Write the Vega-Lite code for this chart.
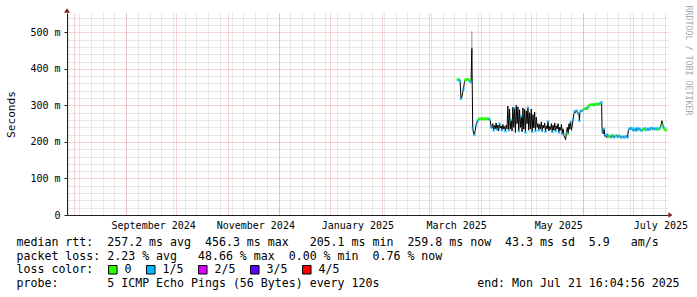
{
  "$schema": "https://vega.github.io/schema/vega-lite/v6.json",
  "width": 601,
  "height": 202,
  "autosize": {"type": "none"},
  "padding": {"left": 67, "top": 13, "right": 29, "bottom": 82},
  "background": "white",
  "config": {
    "view": {"stroke": null},
    "axis": {"labelFont": "DejaVu Sans Mono", "titleFont": "DejaVu Sans Mono", "labelColor": "#000", "titleColor": "#000", "titleFontWeight": "normal"},
    "legend": {"labelFont": "DejaVu Sans Mono"}
  },
  "datasets": {
    "smoke": [{"t": "2025-03-26T12:00Z", "lo": 456, "hi": 503}],
    "rtt": [
      {"t": "2025-03-18T00:00Z", "v": 370, "loss": "0"},
      {"t": "2025-03-18T12:00Z", "v": 372, "loss": "0"},
      {"t": "2025-03-19T00:00Z", "v": 369, "loss": "1/5"},
      {"t": "2025-03-19T12:00Z", "v": 366, "loss": "1/5"},
      {"t": "2025-03-20T00:00Z", "v": 318, "loss": "1/5"},
      {"t": "2025-03-20T12:00Z", "v": 322},
      {"t": "2025-03-21T00:00Z", "v": 335},
      {"t": "2025-03-21T12:00Z", "v": 345, "loss": "1/5"},
      {"t": "2025-03-22T00:00Z", "v": 362},
      {"t": "2025-03-22T12:00Z", "v": 370, "loss": "0"},
      {"t": "2025-03-23T00:00Z", "v": 371, "loss": "0"},
      {"t": "2025-03-23T12:00Z", "v": 370, "loss": "0"},
      {"t": "2025-03-24T00:00Z", "v": 372, "loss": "0"},
      {"t": "2025-03-24T12:00Z", "v": 370, "loss": "0"},
      {"t": "2025-03-25T00:00Z", "v": 369, "loss": "0"},
      {"t": "2025-03-25T12:00Z", "v": 366, "loss": "1/5"},
      {"t": "2025-03-26T00:00Z", "v": 363, "loss": "1/5"},
      {"t": "2025-03-26T12:00Z", "v": 456},
      {"t": "2025-03-27T00:00Z", "v": 238, "loss": "1/5"},
      {"t": "2025-03-27T12:00Z", "v": 224},
      {"t": "2025-03-28T00:00Z", "v": 219, "loss": "1/5"},
      {"t": "2025-03-28T12:00Z", "v": 232},
      {"t": "2025-03-29T00:00Z", "v": 246, "loss": "1/5"},
      {"t": "2025-03-29T12:00Z", "v": 252},
      {"t": "2025-03-30T00:00Z", "v": 258, "loss": "1/5"},
      {"t": "2025-03-30T12:00Z", "v": 262, "loss": "0"},
      {"t": "2025-03-31T00:00Z", "v": 264, "loss": "0"},
      {"t": "2025-03-31T12:00Z", "v": 263, "loss": "0"},
      {"t": "2025-04-01T00:00Z", "v": 263, "loss": "0"},
      {"t": "2025-04-01T12:00Z", "v": 264, "loss": "0"},
      {"t": "2025-04-02T00:00Z", "v": 264, "loss": "0"},
      {"t": "2025-04-02T12:00Z", "v": 263, "loss": "0"},
      {"t": "2025-04-03T00:00Z", "v": 262, "loss": "0"},
      {"t": "2025-04-03T12:00Z", "v": 263, "loss": "0"},
      {"t": "2025-04-04T00:00Z", "v": 264, "loss": "0"},
      {"t": "2025-04-04T12:00Z", "v": 263, "loss": "0"},
      {"t": "2025-04-05T00:00Z", "v": 263, "loss": "0"},
      {"t": "2025-04-05T12:00Z", "v": 264, "loss": "0"},
      {"t": "2025-04-06T00:00Z", "v": 262, "loss": "1/5"},
      {"t": "2025-04-06T12:00Z", "v": 258},
      {"t": "2025-04-07T00:00Z", "v": 240, "loss": "1/5"},
      {"t": "2025-04-07T12:00Z", "v": 238},
      {"t": "2025-04-08T00:00Z", "v": 250},
      {"t": "2025-04-08T12:00Z", "v": 232, "loss": "1/5"},
      {"t": "2025-04-09T00:00Z", "v": 245},
      {"t": "2025-04-09T12:00Z", "v": 236},
      {"t": "2025-04-10T00:00Z", "v": 252},
      {"t": "2025-04-10T12:00Z", "v": 234, "loss": "1/5"},
      {"t": "2025-04-11T00:00Z", "v": 246},
      {"t": "2025-04-11T12:00Z", "v": 230},
      {"t": "2025-04-12T00:00Z", "v": 250, "loss": "1/5"},
      {"t": "2025-04-12T12:00Z", "v": 238},
      {"t": "2025-04-13T00:00Z", "v": 244},
      {"t": "2025-04-13T12:00Z", "v": 232, "loss": "1/5"},
      {"t": "2025-04-14T00:00Z", "v": 248},
      {"t": "2025-04-14T12:00Z", "v": 236},
      {"t": "2025-04-15T00:00Z", "v": 242},
      {"t": "2025-04-15T12:00Z", "v": 230, "loss": "1/5"},
      {"t": "2025-04-16T00:00Z", "v": 246},
      {"t": "2025-04-16T12:00Z", "v": 236},
      {"t": "2025-04-17T00:00Z", "v": 298},
      {"t": "2025-04-17T12:00Z", "v": 232, "loss": "1/5"},
      {"t": "2025-04-18T00:00Z", "v": 290},
      {"t": "2025-04-18T12:00Z", "v": 236},
      {"t": "2025-04-19T00:00Z", "v": 260, "loss": "1/5"},
      {"t": "2025-04-19T12:00Z", "v": 230},
      {"t": "2025-04-20T00:00Z", "v": 295},
      {"t": "2025-04-20T12:00Z", "v": 240},
      {"t": "2025-04-21T00:00Z", "v": 292, "loss": "1/5"},
      {"t": "2025-04-21T12:00Z", "v": 226},
      {"t": "2025-04-22T00:00Z", "v": 300},
      {"t": "2025-04-22T12:00Z", "v": 250},
      {"t": "2025-04-23T00:00Z", "v": 296},
      {"t": "2025-04-23T12:00Z", "v": 230, "loss": "1/5"},
      {"t": "2025-04-24T00:00Z", "v": 288},
      {"t": "2025-04-24T12:00Z", "v": 240},
      {"t": "2025-04-25T00:00Z", "v": 270, "loss": "1/5"},
      {"t": "2025-04-25T12:00Z", "v": 228},
      {"t": "2025-04-26T00:00Z", "v": 293},
      {"t": "2025-04-26T12:00Z", "v": 235},
      {"t": "2025-04-27T00:00Z", "v": 290},
      {"t": "2025-04-27T12:00Z", "v": 226, "loss": "1/5"},
      {"t": "2025-04-28T00:00Z", "v": 285},
      {"t": "2025-04-28T12:00Z", "v": 250},
      {"t": "2025-04-29T00:00Z", "v": 294, "loss": "1/5"},
      {"t": "2025-04-29T12:00Z", "v": 232},
      {"t": "2025-04-30T00:00Z", "v": 280},
      {"t": "2025-04-30T12:00Z", "v": 236},
      {"t": "2025-05-01T00:00Z", "v": 290},
      {"t": "2025-05-01T12:00Z", "v": 228, "loss": "1/5"},
      {"t": "2025-05-02T00:00Z", "v": 275},
      {"t": "2025-05-02T12:00Z", "v": 238},
      {"t": "2025-05-03T00:00Z", "v": 282},
      {"t": "2025-05-03T12:00Z", "v": 230, "loss": "1/5"},
      {"t": "2025-05-04T00:00Z", "v": 268},
      {"t": "2025-05-04T12:00Z", "v": 240},
      {"t": "2025-05-05T00:00Z", "v": 250},
      {"t": "2025-05-05T12:00Z", "v": 232, "loss": "1/5"},
      {"t": "2025-05-06T00:00Z", "v": 248},
      {"t": "2025-05-06T12:00Z", "v": 236},
      {"t": "2025-05-07T00:00Z", "v": 255},
      {"t": "2025-05-07T12:00Z", "v": 230, "loss": "1/5"},
      {"t": "2025-05-08T00:00Z", "v": 246},
      {"t": "2025-05-08T12:00Z", "v": 238},
      {"t": "2025-05-09T00:00Z", "v": 252},
      {"t": "2025-05-09T12:00Z", "v": 228, "loss": "1/5"},
      {"t": "2025-05-10T00:00Z", "v": 244},
      {"t": "2025-05-10T12:00Z", "v": 236},
      {"t": "2025-05-11T00:00Z", "v": 256, "loss": "1/5"},
      {"t": "2025-05-11T12:00Z", "v": 230},
      {"t": "2025-05-12T00:00Z", "v": 242},
      {"t": "2025-05-12T12:00Z", "v": 234},
      {"t": "2025-05-13T00:00Z", "v": 250},
      {"t": "2025-05-13T12:00Z", "v": 228, "loss": "1/5"},
      {"t": "2025-05-14T00:00Z", "v": 246},
      {"t": "2025-05-14T12:00Z", "v": 232},
      {"t": "2025-05-15T00:00Z", "v": 252},
      {"t": "2025-05-15T12:00Z", "v": 230, "loss": "1/5"},
      {"t": "2025-05-16T00:00Z", "v": 244},
      {"t": "2025-05-16T12:00Z", "v": 236},
      {"t": "2025-05-17T00:00Z", "v": 250},
      {"t": "2025-05-17T12:00Z", "v": 226, "loss": "1/5"},
      {"t": "2025-05-18T00:00Z", "v": 240},
      {"t": "2025-05-18T12:00Z", "v": 232},
      {"t": "2025-05-19T00:00Z", "v": 248},
      {"t": "2025-05-19T12:00Z", "v": 222, "loss": "1/5"},
      {"t": "2025-05-20T00:00Z", "v": 236},
      {"t": "2025-05-20T12:00Z", "v": 218},
      {"t": "2025-05-21T00:00Z", "v": 212},
      {"t": "2025-05-21T12:00Z", "v": 206},
      {"t": "2025-05-22T00:00Z", "v": 225, "loss": "1/5"},
      {"t": "2025-05-22T12:00Z", "v": 240},
      {"t": "2025-05-23T00:00Z", "v": 222, "loss": "0"},
      {"t": "2025-05-23T12:00Z", "v": 250},
      {"t": "2025-05-24T00:00Z", "v": 235},
      {"t": "2025-05-24T12:00Z", "v": 255, "loss": "1/5"},
      {"t": "2025-05-25T00:00Z", "v": 232},
      {"t": "2025-05-25T12:00Z", "v": 245},
      {"t": "2025-05-26T00:00Z", "v": 262, "loss": "1/5"},
      {"t": "2025-05-26T12:00Z", "v": 278},
      {"t": "2025-05-27T00:00Z", "v": 284, "loss": "1/5"},
      {"t": "2025-05-27T12:00Z", "v": 280},
      {"t": "2025-05-28T00:00Z", "v": 286, "loss": "1/5"},
      {"t": "2025-05-28T12:00Z", "v": 282},
      {"t": "2025-05-29T00:00Z", "v": 278, "loss": "1/5"},
      {"t": "2025-05-29T12:00Z", "v": 276},
      {"t": "2025-05-29T18:00Z", "v": 258, "loss": "1/5"},
      {"t": "2025-05-30T00:00Z", "v": 280},
      {"t": "2025-05-30T12:00Z", "v": 285, "loss": "1/5"},
      {"t": "2025-05-31T00:00Z", "v": 283},
      {"t": "2025-05-31T12:00Z", "v": 286, "loss": "1/5"},
      {"t": "2025-06-01T00:00Z", "v": 288},
      {"t": "2025-06-01T12:00Z", "v": 290, "loss": "0"},
      {"t": "2025-06-02T00:00Z", "v": 292, "loss": "0"},
      {"t": "2025-06-02T12:00Z", "v": 289},
      {"t": "2025-06-03T00:00Z", "v": 293, "loss": "1/5"},
      {"t": "2025-06-03T12:00Z", "v": 291, "loss": "0"},
      {"t": "2025-06-04T00:00Z", "v": 296, "loss": "1/5"},
      {"t": "2025-06-04T12:00Z", "v": 300, "loss": "0"},
      {"t": "2025-06-05T00:00Z", "v": 301, "loss": "0"},
      {"t": "2025-06-05T12:00Z", "v": 302, "loss": "0"},
      {"t": "2025-06-06T00:00Z", "v": 301, "loss": "0"},
      {"t": "2025-06-06T12:00Z", "v": 303, "loss": "0"},
      {"t": "2025-06-07T00:00Z", "v": 302, "loss": "0"},
      {"t": "2025-06-07T12:00Z", "v": 301, "loss": "1/5"},
      {"t": "2025-06-08T00:00Z", "v": 303, "loss": "0"},
      {"t": "2025-06-08T12:00Z", "v": 302, "loss": "0"},
      {"t": "2025-06-09T00:00Z", "v": 304, "loss": "0"},
      {"t": "2025-06-09T12:00Z", "v": 303, "loss": "0"},
      {"t": "2025-06-10T00:00Z", "v": 304, "loss": "1/5"},
      {"t": "2025-06-10T12:00Z", "v": 303, "loss": "0"},
      {"t": "2025-06-11T00:00Z", "v": 305, "loss": "0"},
      {"t": "2025-06-11T12:00Z", "v": 306, "loss": "1/5"},
      {"t": "2025-06-12T00:00Z", "v": 309, "loss": "1/5"},
      {"t": "2025-06-12T06:00Z", "v": 240},
      {"t": "2025-06-12T12:00Z", "v": 228, "loss": "1/5"},
      {"t": "2025-06-13T00:00Z", "v": 222},
      {"t": "2025-06-13T12:00Z", "v": 236, "loss": "1/5"},
      {"t": "2025-06-14T00:00Z", "v": 215},
      {"t": "2025-06-14T12:00Z", "v": 218, "loss": "1/5"},
      {"t": "2025-06-15T00:00Z", "v": 212},
      {"t": "2025-06-15T12:00Z", "v": 220, "loss": "1/5"},
      {"t": "2025-06-16T00:00Z", "v": 214, "loss": "0"},
      {"t": "2025-06-16T12:00Z", "v": 216, "loss": "0"},
      {"t": "2025-06-17T00:00Z", "v": 218},
      {"t": "2025-06-17T12:00Z", "v": 213, "loss": "1/5"},
      {"t": "2025-06-18T00:00Z", "v": 212},
      {"t": "2025-06-18T12:00Z", "v": 219, "loss": "1/5"},
      {"t": "2025-06-19T00:00Z", "v": 216},
      {"t": "2025-06-19T12:00Z", "v": 212, "loss": "1/5"},
      {"t": "2025-06-20T00:00Z", "v": 214},
      {"t": "2025-06-20T12:00Z", "v": 218, "loss": "0"},
      {"t": "2025-06-21T00:00Z", "v": 219},
      {"t": "2025-06-21T12:00Z", "v": 214, "loss": "1/5"},
      {"t": "2025-06-22T00:00Z", "v": 213},
      {"t": "2025-06-22T12:00Z", "v": 217, "loss": "1/5"},
      {"t": "2025-06-23T00:00Z", "v": 216},
      {"t": "2025-06-23T12:00Z", "v": 212, "loss": "1/5"},
      {"t": "2025-06-24T00:00Z", "v": 211},
      {"t": "2025-06-24T12:00Z", "v": 215, "loss": "1/5"},
      {"t": "2025-06-25T00:00Z", "v": 215},
      {"t": "2025-06-25T12:00Z", "v": 212, "loss": "1/5"},
      {"t": "2025-06-26T00:00Z", "v": 213},
      {"t": "2025-06-26T12:00Z", "v": 216, "loss": "1/5"},
      {"t": "2025-06-27T00:00Z", "v": 216},
      {"t": "2025-06-27T12:00Z", "v": 212, "loss": "1/5"},
      {"t": "2025-06-28T00:00Z", "v": 232},
      {"t": "2025-06-28T12:00Z", "v": 236, "loss": "1/5"},
      {"t": "2025-06-29T00:00Z", "v": 233},
      {"t": "2025-06-29T12:00Z", "v": 238, "loss": "1/5"},
      {"t": "2025-06-30T00:00Z", "v": 237, "loss": "1/5"},
      {"t": "2025-06-30T12:00Z", "v": 232},
      {"t": "2025-07-01T00:00Z", "v": 232, "loss": "1/5"},
      {"t": "2025-07-01T12:00Z", "v": 236, "loss": "1/5"},
      {"t": "2025-07-02T00:00Z", "v": 235},
      {"t": "2025-07-02T12:00Z", "v": 231, "loss": "1/5"},
      {"t": "2025-07-03T00:00Z", "v": 238, "loss": "1/5"},
      {"t": "2025-07-03T12:00Z", "v": 234},
      {"t": "2025-07-04T00:00Z", "v": 233, "loss": "1/5"},
      {"t": "2025-07-04T12:00Z", "v": 237, "loss": "1/5"},
      {"t": "2025-07-05T00:00Z", "v": 236},
      {"t": "2025-07-05T12:00Z", "v": 232, "loss": "1/5"},
      {"t": "2025-07-06T00:00Z", "v": 231, "loss": "1/5"},
      {"t": "2025-07-06T12:00Z", "v": 235, "loss": "0"},
      {"t": "2025-07-07T00:00Z", "v": 234, "loss": "0"},
      {"t": "2025-07-07T12:00Z", "v": 236, "loss": "0"},
      {"t": "2025-07-08T00:00Z", "v": 237, "loss": "1/5"},
      {"t": "2025-07-08T12:00Z", "v": 233, "loss": "0"},
      {"t": "2025-07-09T00:00Z", "v": 233, "loss": "1/5"},
      {"t": "2025-07-09T12:00Z", "v": 237},
      {"t": "2025-07-10T00:00Z", "v": 236, "loss": "1/5"},
      {"t": "2025-07-10T12:00Z", "v": 233, "loss": "1/5"},
      {"t": "2025-07-11T00:00Z", "v": 234},
      {"t": "2025-07-11T12:00Z", "v": 238, "loss": "1/5"},
      {"t": "2025-07-12T00:00Z", "v": 238, "loss": "1/5"},
      {"t": "2025-07-12T12:00Z", "v": 234},
      {"t": "2025-07-13T00:00Z", "v": 235, "loss": "1/5"},
      {"t": "2025-07-13T12:00Z", "v": 237, "loss": "1/5"},
      {"t": "2025-07-14T00:00Z", "v": 233},
      {"t": "2025-07-14T12:00Z", "v": 236, "loss": "1/5"},
      {"t": "2025-07-15T00:00Z", "v": 237, "loss": "1/5"},
      {"t": "2025-07-15T12:00Z", "v": 234, "loss": "0"},
      {"t": "2025-07-16T00:00Z", "v": 235, "loss": "0"},
      {"t": "2025-07-16T12:00Z", "v": 237, "loss": "1/5"},
      {"t": "2025-07-17T00:00Z", "v": 238, "loss": "0"},
      {"t": "2025-07-17T12:00Z", "v": 245},
      {"t": "2025-07-18T00:00Z", "v": 258},
      {"t": "2025-07-18T12:00Z", "v": 248, "loss": "0"},
      {"t": "2025-07-19T00:00Z", "v": 240, "loss": "1/5"},
      {"t": "2025-07-19T12:00Z", "v": 236, "loss": "0"},
      {"t": "2025-07-20T00:00Z", "v": 233, "loss": "0"},
      {"t": "2025-07-20T12:00Z", "v": 232, "loss": "0"}
    ]
  },
  "resolve": {"axis": {"x": "independent", "y": "independent"}},
  "layer": [
    {
      "data": {"name": "smoke"},
      "mark": {"type": "rule", "color": "#8c8c8c", "strokeWidth": 1},
      "encoding": {
        "x": {"field": "t", "type": "temporal",
          "scale": {"type": "utc", "nice": false, "domain": [{"year": 2024, "month": 7, "date": 27, "hours": 15, "minutes": 30, "utc": true}, {"year": 2025, "month": 7, "date": 21, "hours": 16, "minutes": 0, "utc": true}]},
          "axis": {"orient": "bottom", "grid": true, "gridColor": "#999999", "gridOpacity": 0.45, "gridDash": [1, 1], "gridWidth": 1, "tickCount": {"interval": "week", "step": 1}, "labels": false, "ticks": false, "domain": false, "title": null}},
        "y": {"field": "lo", "type": "quantitative",
          "scale": {"domain": [0, 553], "nice": false, "zero": true},
          "axis": {"orient": "left", "grid": true, "gridColor": "#999999", "gridOpacity": 0.45, "gridDash": [1, 1], "gridWidth": 1, "values": [20, 40, 60, 80, 120, 140, 160, 180, 220, 240, 260, 280, 320, 340, 360, 380, 420, 440, 460, 480, 520, 540], "labels": false, "ticks": false, "domain": false, "title": null}},
        "y2": {"field": "hi"}
      }
    },
    {
      "data": {"name": "rtt"},
      "mark": {"type": "line", "color": "#000000", "strokeWidth": 1},
      "encoding": {
        "x": {"field": "t", "type": "temporal",
          "scale": {"type": "utc", "nice": false, "domain": [{"year": 2024, "month": 7, "date": 27, "hours": 15, "minutes": 30, "utc": true}, {"year": 2025, "month": 7, "date": 21, "hours": 16, "minutes": 0, "utc": true}]},
          "axis": {"orient": "bottom", "grid": true, "gridColor": "#e05555", "gridOpacity": 0.5, "gridDash": [1, 1], "gridWidth": 1, "tickCount": {"interval": "month", "step": 1}, "labels": false, "ticks": false, "domain": true, "domainColor": "#1f1f1f", "domainWidth": 1, "title": null}},
        "y": {"field": "v", "type": "quantitative",
          "scale": {"domain": [0, 553], "nice": false, "zero": true},
          "axis": {"orient": "left", "grid": true, "gridColor": "#e05555", "gridOpacity": 0.5, "gridDash": [1, 1], "gridWidth": 1, "values": [0, 100, 200, 300, 400, 500], "labelExpr": "datum.value == 0 ? '0' : datum.value + ' m'", "labelFontSize": 10, "labelPadding": 4, "ticks": true, "tickSize": 3, "tickColor": "#1f1f1f", "domain": true, "domainColor": "#1f1f1f", "title": "Seconds", "titleX": -56, "titleY": 101, "titleAngle": 270, "titleAlign": "center", "titleBaseline": "middle", "titleFontSize": 11.1}}
      }
    },
    {
      "data": {"name": "rtt"},
      "transform": [{"filter": "isValid(datum.loss)"}],
      "mark": {"type": "tick", "orient": "horizontal", "size": 2.5, "thickness": 2.5},
      "encoding": {
        "x": {"field": "t", "type": "temporal",
          "scale": {"type": "utc", "nice": false, "domain": [{"year": 2024, "month": 7, "date": 27, "hours": 15, "minutes": 30, "utc": true}, {"year": 2025, "month": 7, "date": 21, "hours": 16, "minutes": 0, "utc": true}]},
          "axis": {"orient": "bottom", "grid": false, "tickCount": {"interval": "month", "step": 2}, "labelExpr": "utcFormat(datum.value, '%B %Y')", "labelOffset": 27, "labelFlush": false, "labelOverlap": false, "labelPadding": 5, "labelFontSize": 10, "ticks": false, "tickSize": 0, "domain": false,
            "title": ["median rtt:\u00a0\u00a0257.2 ms avg\u00a0\u00a0456.3 ms max\u00a0\u00a0\u00a0205.1 ms min\u00a0\u00a0259.8 ms now\u00a0\u00a043.3 ms sd\u00a0\u00a05.9\u00a0\u00a0\u00a0am/s", "packet loss: 2.23 % avg\u00a0\u00a0\u00a048.66 % max\u00a0\u00a00.00 % min\u00a0\u00a00.76 % now", "loss color:", "probe:\u00a0\u00a0\u00a0\u00a0\u00a0\u00a0\u00a05 ICMP Echo Pings (56 Bytes) every 120s\u00a0\u00a0\u00a0\u00a0\u00a0\u00a0\u00a0\u00a0\u00a0\u00a0\u00a0\u00a0\u00a0\u00a0end: Mon Jul 21 16:04:56 2025"],
            "titleX": -51, "titleY": 30.5, "titleAlign": "left", "titleBaseline": "alphabetic", "titleFontSize": 11.6, "titleLineHeight": 13.7}},
        "y": {"field": "v", "type": "quantitative",
          "scale": {"domain": [0, 553], "nice": false, "zero": true},
          "axis": {"orient": "right", "grid": false, "labels": false, "ticks": false, "domain": false, "title": "RRDTOOL / TOBI OETIKER", "titleAngle": 90, "titleX": 19.7, "titleY": -8, "titleAlign": "left", "titleBaseline": "middle", "titleFontSize": 8.3, "titleColor": "#a8a8a8"}},
        "color": {"field": "loss", "type": "nominal",
          "scale": {"domain": ["0", "1/5", "2/5", "3/5", "4/5"], "range": ["#26ff00", "#00b8ff", "#dd00ff", "#5e00ff", "#ff0000"]},
          "legend": {"orient": "none", "legendX": 40, "legendY": 250.5, "direction": "horizontal", "title": null, "symbolType": "square", "symbolSize": 72, "symbolStrokeColor": "#000000", "symbolStrokeWidth": 1, "symbolOpacity": 1, "labelFontSize": 11.6, "labelColor": "#000000", "labelOffset": 6, "columnPadding": 12, "padding": 0}}
      }
    },
    {
      "data": {"values": [{}]},
      "mark": {"type": "point", "shape": "M0,-0.75L1,0.75L-1,0.75Z", "filled": true, "color": "#801f1f", "size": 36, "opacity": 1},
      "encoding": {
        "x": {"datum": {"year": 2024, "month": 7, "date": 27, "hours": 15, "minutes": 30, "utc": true}, "type": "temporal", "axis": null},
        "y": {"datum": 560, "type": "quantitative", "axis": null}
      }
    },
    {
      "data": {"values": [{}]},
      "mark": {"type": "point", "shape": "M0.75,0L-0.75,-1L-0.75,1Z", "filled": true, "color": "#801f1f", "size": 30, "opacity": 1},
      "encoding": {
        "x": {"datum": {"year": 2025, "month": 7, "date": 23, "hours": 2, "minutes": 50, "utc": true}, "type": "temporal", "axis": null},
        "y": {"datum": 0, "type": "quantitative", "axis": null}
      }
    }
  ]
}
